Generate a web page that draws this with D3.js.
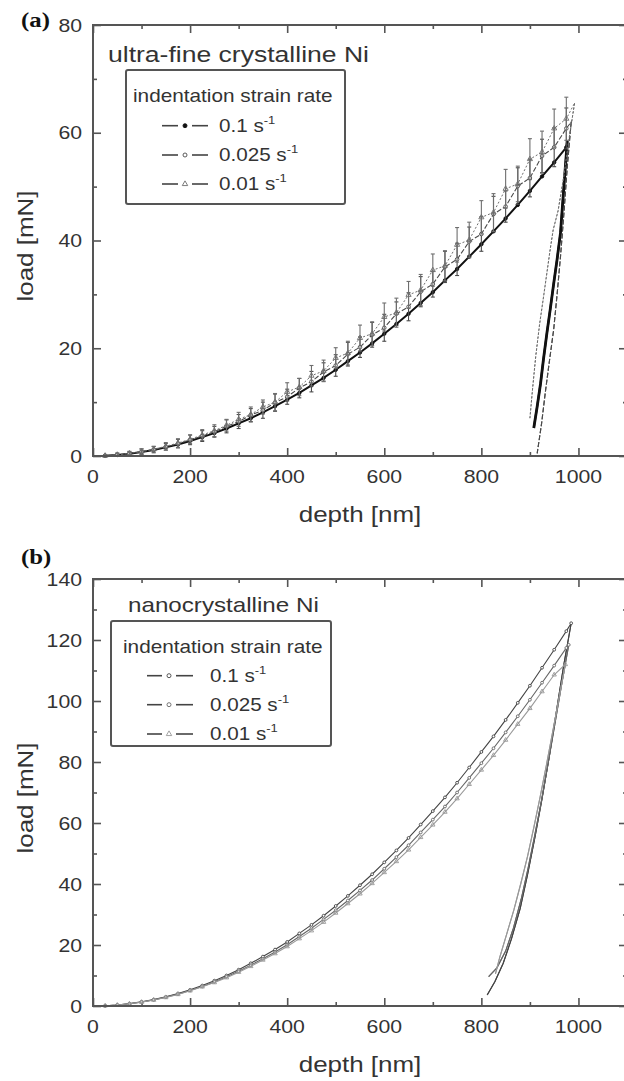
<!DOCTYPE html>
<html>
<head>
<meta charset="utf-8">
<script src="https://cdn.jsdelivr.net/npm/d3@7"></script>
<style>
  body { margin: 0; background: #fff; }
  text { font-family: "Liberation Sans", Arial, sans-serif; fill: #333; }
</style>
</head>
<body>
<div id="chart"></div>
<script>
// ---- values ----
const xMajor = [0, 200, 400, 600, 800, 1000];
const xMinor = [100, 300, 500, 700, 900, 1100];
const yMajorA = [0, 20, 40, 60, 80];
const yMinorA = [10, 30, 50, 70];
const yMajorB = [0, 20, 40, 60, 80, 100, 120, 140];
const yMinorB = [10, 30, 50, 70, 90, 110, 130];
const rates = ["0.1", "0.025", "0.01"];

// (a) ultra-fine crystalline Ni : loading branch
const depthA = [0, 25, 50, 75, 100, 125, 150, 175, 200, 225, 250, 275, 300, 325, 350, 375, 400, 425, 450, 475,
  500, 525, 550, 575, 600, 625, 650, 675, 700, 725, 750, 775, 800, 825, 850, 875, 900, 925, 950, 975];
const loadA1 = [0, 0.05, 0.2, 0.43, 0.74, 1.13, 1.6, 2.15, 2.8, 3.5, 4.25, 5.1, 6.05, 7.0, 8.1, 9.25, 10.45, 11.7, 13.1, 14.5,
  16.0, 17.6, 19.2, 20.9, 22.7, 24.5, 26.4, 28.4, 30.4, 32.6, 34.7, 37.0, 39.3, 41.7, 44.1, 46.6, 49.2, 51.9, 54.5, 57.3];
const loadA2 = [0, 0.06, 0.22, 0.46, 0.8, 1.2, 1.7, 2.3, 3.0, 3.7, 4.5, 5.5, 6.4, 7.6, 8.5, 9.9, 11.0, 12.6, 13.8, 15.6,
  16.8, 18.9, 20.2, 22.5, 23.8, 26.4, 27.7, 30.5, 31.9, 35.1, 36.5, 39.8, 41.2, 44.9, 46.3, 50.1, 51.6, 55.7, 57.3, 60.8];
const errA2 = [0, 0.2, 0.3, 0.4, 0.5, 0.6, 0.6, 0.8, 0.9, 1.0, 1.0, 1.2, 1.3, 1.2, 1.5, 1.6, 1.4, 1.8, 1.9, 1.7,
  2.0, 2.2, 1.9, 2.3, 2.5, 2.2, 2.6, 2.8, 2.4, 2.9, 3.0, 2.7, 3.2, 3.3, 2.9, 3.4, 3.5, 3.1, 3.6, 3.8];
const loadA3 = [0, 0.06, 0.23, 0.48, 0.83, 1.25, 1.8, 2.4, 3.1, 3.9, 4.7, 5.7, 6.8, 7.7, 9.1, 10.0, 11.9, 12.8, 14.9, 15.8,
  18.2, 19.1, 21.9, 22.7, 25.8, 26.6, 29.9, 30.8, 34.5, 35.3, 39.2, 40.1, 44.3, 45.2, 49.6, 50.5, 55.1, 56.4, 60.8, 62.6];
const errA3 = [0, 0.2, 0.3, 0.3, 0.5, 0.5, 0.7, 0.8, 0.8, 1.0, 1.1, 1.1, 1.3, 1.4, 1.3, 1.6, 1.7, 1.6, 1.9, 2.0,
  1.9, 2.2, 2.4, 2.2, 2.6, 2.7, 2.5, 2.9, 3.0, 2.8, 3.2, 3.3, 3.1, 3.5, 3.6, 3.3, 3.8, 3.9, 3.6, 4.0];
// (a) unloading branch
const unDepthA1 = [977, 970, 963, 956, 949, 942, 935, 928, 922, 915, 908];
const unLoadA1 = [58.5, 50.0, 41.4, 36.5, 32.0, 27.3, 22.8, 18.0, 13.5, 9.2, 5.2];
const unDepthA2 = [985, 977, 970, 963, 956, 949, 940, 932, 924, 915];
const unLoadA2 = [62.0, 53.7, 45.0, 37.0, 30.0, 23.5, 17.5, 12.0, 6.0, 0.5];
const unDepthA3 = [992, 980, 970, 958, 948, 942, 935, 928, 920, 912, 905, 900];
const unLoadA3 = [65.5, 58.5, 52.0, 45.5, 42.0, 38.5, 34.0, 29.5, 24.5, 18.5, 12.0, 7.0];

// (b) nanocrystalline Ni : loading branch
const depthB1 = [0, 25, 50, 75, 100, 125, 150, 175, 200, 225, 250, 275, 300, 325, 350, 375, 400, 425, 450, 475,
  500, 525, 550, 575, 600, 625, 650, 675, 700, 725, 750, 775, 800, 825, 850, 875, 900, 925, 950, 975, 985];
const loadB1 = [0, 0.09, 0.34, 0.77, 1.35, 2.1, 3.0, 4.1, 5.3, 6.7, 8.3, 10.0, 11.9, 14.0, 16.2, 18.5, 21.0, 23.8, 26.6, 29.6,
  32.8, 36.1, 39.6, 43.2, 47.1, 51.0, 55.1, 59.5, 63.9, 68.4, 73.2, 78.2, 83.3, 88.4, 93.8, 99.4, 105.0, 110.9, 116.8, 122.9, 125.5];
const depthB2 = [0, 25, 50, 75, 100, 125, 150, 175, 200, 225, 250, 275, 300, 325, 350, 375, 400, 425, 450, 475,
  500, 525, 550, 575, 600, 625, 650, 675, 700, 725, 750, 775, 800, 825, 850, 875, 900, 925, 950, 975, 980];
const loadB2 = [0, 0.08, 0.33, 0.74, 1.3, 2.0, 2.9, 3.9, 5.1, 6.4, 7.9, 9.6, 11.4, 13.4, 15.5, 17.7, 20.1, 22.8, 25.5, 28.4,
  31.4, 34.6, 37.9, 41.3, 45.0, 48.8, 52.7, 56.9, 61.1, 65.4, 70.0, 74.8, 79.6, 84.5, 89.7, 95.0, 100.4, 106.0, 111.6, 117.4, 118.4];
const depthB3 = [0, 25, 50, 75, 100, 125, 150, 175, 200, 225, 250, 275, 300, 325, 350, 375, 400, 425, 450, 475,
  500, 525, 550, 575, 600, 625, 650, 675, 700, 725, 750, 775, 800, 825, 850, 875, 900, 925, 950, 973];
const loadB3 = [0, 0.08, 0.32, 0.72, 1.26, 1.95, 2.8, 3.8, 5.0, 6.3, 7.7, 9.3, 11.1, 13.0, 15.1, 17.2, 19.5, 22.1, 24.7, 27.5,
  30.5, 33.6, 36.8, 40.2, 43.8, 47.4, 51.2, 55.3, 59.4, 63.6, 68.0, 72.7, 77.4, 82.2, 87.2, 92.4, 97.6, 103.1, 108.6, 112.0];
// (b) unloading branch
const unDepthB1 = [985, 970, 955, 940, 925, 910, 895, 880, 862, 845, 828, 812];
const unLoadB1 = [125.5, 112, 97, 82, 68, 55, 43, 32, 22, 14, 8, 3.6];
const unDepthB2 = [980, 966, 952, 938, 924, 910, 896, 882, 866, 850, 832, 815];
const unLoadB2 = [118.4, 106, 93, 80, 67.5, 56, 45, 35, 25.5, 18, 12.5, 9.6];
const unDepthB3 = [973, 960, 947, 934, 921, 908, 895, 881, 867, 852, 838, 829];
const unLoadB3 = [112, 101, 90, 79, 68.5, 58.5, 49, 40, 31.5, 23.5, 16, 10.5];

// ---- drawing ----
const W = 624, H = 1081;
const SX = 1.18; // the scanned lettering is a bit wide

const svg = d3.select("#chart").append("svg")
  .attr("width", W).attr("height", H)
  .attr("viewBox", `0 0 ${W} ${H}`);

function txt(g, x, y, s, size, anchor, extra) {
  const t = g.append("text")
    .attr("transform", `translate(${x},${y})${extra || ""} scale(${SX},1)`)
    .attr("font-size", size)
    .attr("text-anchor", anchor || "start")
    .text(s);
  return t;
}

const zip = (xs, ys) => xs.map((d, i) => ({d: d, l: ys[i]}));

function marker(g, type, x, y, color, r) {
  if (type === "tri") {
    g.append("path")
      .attr("d", d3.symbol(d3.symbolTriangle).size(r * r * 3.2)())
      .attr("transform", `translate(${x},${y})`)
      .attr("fill", "none").attr("stroke", color).attr("stroke-width", 0.9);
  } else {
    g.append("circle").attr("cx", x).attr("cy", y).attr("r", r)
      .attr("fill", type === "fill" ? color : "#fff")
      .attr("stroke", color).attr("stroke-width", 0.9);
  }
}

function panel(cfg) {
  const g = svg.append("g");
  const x = d3.scaleLinear().domain([0, 1100]).range([93, 627]);
  const y = d3.scaleLinear().domain(cfg.yDomain).range(cfg.yRange);
  const [y0, y1] = cfg.yRange;

  // ticks, pointing inward on all four sides
  const tickCol = "#555";
  const addAxis = (axis, tr) => {
    const a = g.append("g").attr("transform", tr).call(axis);
    a.select(".domain").remove();
    a.selectAll("line").attr("stroke", tickCol).attr("stroke-width", 1.6);
    a.selectAll("text").remove();
  };
  addAxis(d3.axisBottom(x).tickValues(xMajor).tickSize(-8), `translate(0,${y0})`);
  addAxis(d3.axisBottom(x).tickValues(xMinor).tickSize(-4), `translate(0,${y0})`);
  addAxis(d3.axisTop(x).tickValues(xMajor).tickSize(-8), `translate(0,${y1})`);
  addAxis(d3.axisTop(x).tickValues(xMinor).tickSize(-4), `translate(0,${y1})`);
  addAxis(d3.axisLeft(y).tickValues(cfg.yMajor).tickSize(-8), `translate(93,0)`);
  addAxis(d3.axisLeft(y).tickValues(cfg.yMinor).tickSize(-4), `translate(93,0)`);
  addAxis(d3.axisRight(y).tickValues(cfg.yMajor).tickSize(-8), `translate(627,0)`);
  addAxis(d3.axisRight(y).tickValues(cfg.yMinor).tickSize(-4), `translate(627,0)`);

  // tick labels
  xMajor.forEach(v => txt(g, x(v), y0 + 27, v, 18, "middle"));
  cfg.yMajor.forEach(v => txt(g, 82, y(v) + 6.5, v, 18, "end"));

  // curves
  const line = d3.line().x(p => x(p.d)).y(p => y(p.l));
  const plot = g.append("g");
  cfg.series.forEach(s => {
    const pts = zip(s.depth, s.load);
    const un = zip(s.unDepth, s.unLoad);
    if (s.err) {
      pts.forEach((p, i) => {
        if (!s.err[i]) return;
        const xx = x(p.d), ya = y(p.l - s.err[i]), yb = y(p.l + s.err[i]);
        plot.append("line").attr("x1", xx).attr("x2", xx).attr("y1", ya).attr("y2", yb)
          .attr("stroke", s.color).attr("stroke-width", 1.1);
        [ya, yb].forEach(yy => plot.append("line").attr("x1", xx - 2).attr("x2", xx + 2)
          .attr("y1", yy).attr("y2", yy).attr("stroke", s.color).attr("stroke-width", 1.1));
      });
    }
    plot.append("path").datum(pts.concat(un)).attr("d", line)
      .attr("fill", "none").attr("stroke", s.color)
      .attr("stroke-width", s.width).attr("stroke-dasharray", s.dash || null);
    plot.append("path").datum(un).attr("d", line)
      .attr("fill", "none").attr("stroke", s.color)
      .attr("stroke-width", s.unWidth || s.width).attr("stroke-dasharray", s.dash || null);
    pts.forEach((p, i) => { if (i > 0) marker(plot, s.mark, x(p.d), y(p.l), s.color, s.r); });
  });

  // frame
  g.append("rect").attr("x", 93).attr("y", y1).attr("width", 627 - 93).attr("height", y0 - y1)
    .attr("fill", "none").attr("stroke", "#555").attr("stroke-width", 2);

  // axis titles and panel label
  txt(g, 360, y0 + 66, "depth [nm]", 22, "middle");
  txt(g, 33, cfg.loadMid, "load [mN]", 22, "middle", " rotate(-90)");
  txt(g, 21, cfg.tag[1], cfg.tag[0], 21, "start")
    .style("font-family", "'Liberation Serif', 'Times New Roman', serif").style("font-weight", "bold")
    .style("fill", "#111");
  txt(g, cfg.title[1], cfg.title[2], cfg.title[0], cfg.title[3], "start");

  // legend
  const L = cfg.legend;
  g.append("rect").attr("x", L.x).attr("y", L.y).attr("width", L.w).attr("height", L.h).attr("rx", 2)
    .attr("fill", "#fff").attr("stroke", "#555").attr("stroke-width", 2);
  txt(g, L.x + L.hx, L.hy, "indentation strain rate", 17.6, "start");
  cfg.series.forEach((s, i) => {
    const by = L.rows[i], my = by - 6;
    g.append("line").attr("x1", L.sx[0]).attr("x2", L.sx[1]).attr("y1", my).attr("y2", my)
      .attr("stroke", "#444").attr("stroke-width", 1.6);
    g.append("line").attr("x1", L.sx[2]).attr("x2", L.sx[3]).attr("y1", my).attr("y2", my)
      .attr("stroke", "#444").attr("stroke-width", 1.6);
    marker(g, s.mark, L.mx, my, s.color, 2);
    const t = txt(g, L.tx, by, rates[i] + " s", 17.5, "start");
    t.append("tspan").attr("dy", -8).attr("font-size", 11).text("-1");
  });
}

panel({
  yDomain: [0, 80], yRange: [456, 25], yMajor: yMajorA, yMinor: yMinorA,
  loadMid: 246, tag: ["(a)", 27], title: ["ultra-fine crystalline Ni", 108, 62, 22.5],
  legend: {x: 126, y: 70, w: 219, h: 134, hx: 7, hy: 101.7, rows: [131.7, 161, 190],
           sx: [162, 178, 192, 208], mx: 185, tx: 219},
  series: [
    {depth: depthA, load: loadA3, err: errA3, unDepth: unDepthA3, unLoad: unLoadA3,
     color: "#6e6e6e", width: 1, dash: "2,2", mark: "tri", r: 1.9},
    {depth: depthA, load: loadA2, err: errA2, unDepth: unDepthA2, unLoad: unLoadA2,
     color: "#4a4a4a", width: 1.1, dash: "5,2", mark: "open", r: 1.8},
    {depth: depthA, load: loadA1, unDepth: unDepthA1, unLoad: unLoadA1,
     color: "#111", width: 2, unWidth: 2.8, mark: "fill", r: 1.7}
  ].reverse()
});

panel({
  yDomain: [0, 140], yRange: [1006, 579], yMajor: yMajorB, yMinor: yMinorB,
  loadMid: 798, tag: ["(b)", 564], title: ["nanocrystalline Ni", 128, 612, 20.5],
  legend: {x: 111, y: 621, w: 220, h: 125, hx: 12, hy: 652.7, rows: [681.7, 710.7, 740],
           sx: [147, 162, 176, 193], mx: 169, tx: 210},
  series: [
    {depth: depthB1, load: loadB1, unDepth: unDepthB1, unLoad: unLoadB1,
     color: "#444", width: 1.1, mark: "open", r: 1.4},
    {depth: depthB2, load: loadB2, unDepth: unDepthB2, unLoad: unLoadB2,
     color: "#666", width: 1.1, mark: "open", r: 1.4},
    {depth: depthB3, load: loadB3, unDepth: unDepthB3, unLoad: unLoadB3,
     color: "#999", width: 1.1, mark: "tri", r: 1.6}
  ]
});
</script>
</body>
</html>
